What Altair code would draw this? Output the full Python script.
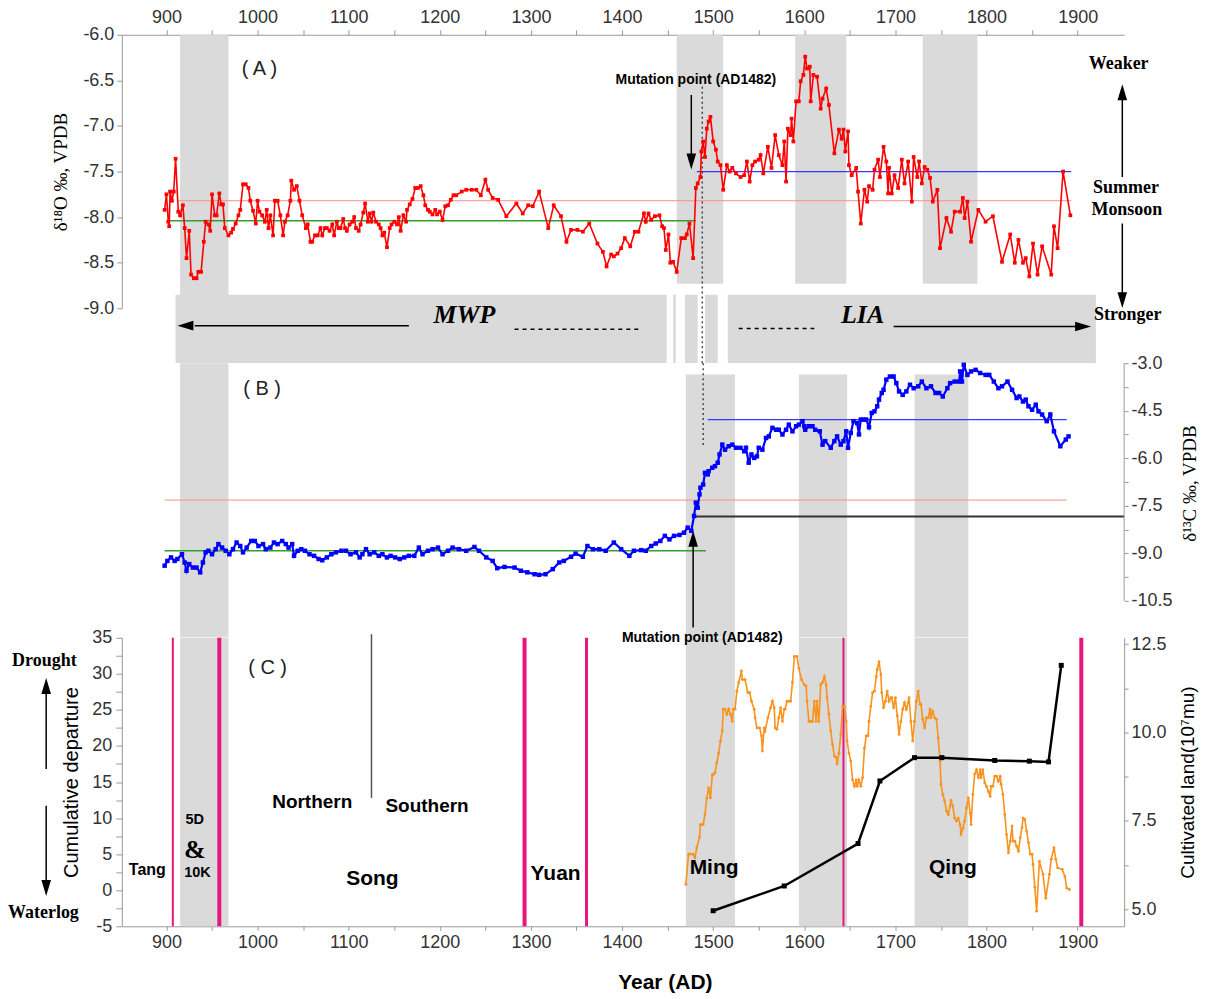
import altair as alt
import pandas as pd

SANS = "Liberation Sans"
SERIF = "Liberation Serif"
GREY = "#dadada"
RED = "#ff0000"
BLUE = "#0000ff"
ORANGE = "#f7931e"
PINK = "#e8157f"

YEAR_DOMAIN = [851, 1951]
W = 1004
H_A, H_B, H_C = 274, 256, 289
GAP = 37

# ---------------- Panel A : delta18O record (year, value) ----------------
a_pairs = [(898,-7.92),(900,-7.75),(902,-8.05),(903,-8.10),(904,-7.72),(906,-7.82),(908,-7.72),(910,-7.36),(913,-7.94),(915,-7.98),
(918,-7.87),(920,-8.12),(922,-8.45),(925,-8.15),(927,-8.63),(930,-8.67),(933,-8.67),(935,-8.60),(938,-8.60),(941,-8.27),
(943,-8.05),(946,-8.08),(948,-8.15),(950,-7.75),(953,-7.98),(955,-7.98),(958,-7.74),(960,-7.86),(962,-7.86),(964,-8.12),
(968,-8.20),(971,-8.17),(973,-8.13),(976,-8.07),(979,-7.98),(981,-7.92),(984,-7.64),(987,-7.64),(990,-7.68),(992,-7.82),
(995,-7.93),(998,-8.07),(1000,-7.82),(1002,-7.94),(1005,-7.98),(1008,-8.05),(1010,-7.92),(1012,-8.12),(1014,-7.98),(1017,-8.20),
(1019,-7.82),(1022,-7.82),(1025,-7.98),(1028,-8.20),(1030,-8.05),(1033,-7.98),(1036,-7.82),(1037,-7.60),(1040,-7.70),(1043,-7.66),
(1046,-7.82),(1049,-7.98),(1053,-8.12),(1055,-8.08),(1058,-8.27),(1060,-8.27),(1063,-8.20),(1066,-8.20),(1069,-8.12),(1071,-8.20),
(1074,-8.12),(1076,-8.12),(1079,-8.15),(1082,-8.08),(1084,-8.20),(1087,-8.05),(1089,-8.12),(1091,-8.12),(1094,-8.02),(1096,-8.12),
(1098,-8.15),(1101,-8.08),(1104,-8.05),(1106,-8.00),(1108,-8.12),(1111,-8.15),(1113,-8.08),(1116,-7.95),(1118,-7.85),(1121,-8.05),
(1123,-7.96),(1125,-8.05),(1127,-7.95),(1130,-8.05),(1133,-8.08),(1135,-8.12),(1137,-8.20),(1139,-8.17),(1142,-8.33),(1145,-8.12),
(1147,-8.08),(1150,-8.05),(1153,-8.08),(1155,-8.00),(1157,-8.15),(1160,-7.98),(1163,-8.05),(1164,-7.92),(1167,-7.86),(1170,-7.80),
(1173,-7.68),(1176,-7.68),(1179,-7.66),(1182,-7.76),(1184,-7.87),(1187,-7.92),(1189,-7.94),(1192,-7.97),(1195,-7.92),(1197,-7.97),
(1200,-7.94),(1203,-8.03),(1206,-7.88),(1209,-7.87),(1212,-7.81),(1215,-7.76),(1218,-7.76),(1224,-7.72),(1229,-7.70),(1235,-7.70),
(1240,-7.70),(1245,-7.76),(1250,-7.59),(1253,-7.70),(1258,-7.79),(1264,-7.81),(1273,-7.99),(1284,-7.85),(1291,-7.96),(1297,-7.87),
(1302,-7.88),(1309,-7.72),(1319,-8.12),(1325,-7.87),(1333,-7.99),(1339,-8.27),(1344,-8.14),(1351,-8.14),(1357,-8.16),(1364,-8.07),
(1373,-8.29),(1379,-8.38),(1383,-8.54),(1388,-8.41),(1391,-8.43),(1395,-8.40),(1399,-8.34),(1403,-8.23),(1409,-8.32),(1414,-8.16),
(1418,-8.16),(1424,-7.96),(1426,-8.05),(1429,-7.96),(1432,-8.03),(1436,-7.99),(1441,-7.98),(1444,-8.10),(1446,-8.12),(1448,-8.36),
(1451,-8.19),(1453,-8.50),(1456,-8.49),(1460,-8.60),(1465,-8.23),(1469,-8.23),(1471,-8.19),(1474,-8.07),(1478,-8.45),(1481,-7.68),
(1483,-7.63),(1486,-7.56),(1487,-7.28),(1489,-7.17),(1491,-7.34),(1493,-7.03),(1495,-6.95),(1497,-6.90),(1500,-7.17),(1503,-7.26),
(1505,-7.39),(1508,-7.43),(1511,-7.70),(1515,-7.43),(1518,-7.50),(1521,-7.46),(1525,-7.52),(1530,-7.56),(1534,-7.54),(1537,-7.39),
(1540,-7.61),(1543,-7.43),(1546,-7.39),(1550,-7.37),(1552,-7.32),(1555,-7.52),(1560,-7.23),(1564,-7.46),(1568,-7.10),(1572,-7.32),
(1576,-7.43),(1578,-7.17),(1580,-7.61),(1582,-7.03),(1585,-7.10),(1586,-6.92),(1588,-7.17),(1591,-6.73),(1594,-6.73),(1596,-6.51),
(1599,-6.44),(1601,-6.24),(1603,-6.37),(1606,-6.35),(1607,-6.73),(1610,-6.44),(1614,-6.46),(1618,-6.81),(1620,-6.70),(1624,-6.59),
(1627,-6.77),(1633,-7.30),(1638,-7.04),(1641,-7.14),(1643,-7.04),(1645,-7.28),(1648,-7.06),(1649,-7.43),(1652,-7.54),(1657,-7.46),
(1659,-7.72),(1662,-8.07),(1666,-7.70),(1669,-7.83),(1671,-7.66),(1675,-7.70),(1677,-7.48),(1681,-7.37),(1683,-7.56),(1687,-7.23),
(1690,-7.39),(1692,-7.74),(1693,-7.46),(1696,-7.74),(1699,-7.54),(1703,-7.68),(1707,-7.37),(1710,-7.63),(1714,-7.39),(1718,-7.83),
(1720,-7.34),(1724,-7.56),(1726,-7.39),(1729,-7.63),(1732,-7.45),(1735,-7.48),(1738,-7.57),(1741,-7.83),(1746,-7.70),(1749,-8.34),
(1756,-8.01),(1761,-8.16),(1765,-7.94),(1771,-7.94),(1774,-7.79),(1776,-8.01),(1779,-7.83),(1783,-8.27),(1791,-7.92),(1799,-8.05),
(1807,-7.99),(1817,-8.49),(1826,-8.19),(1831,-8.50),(1835,-8.25),(1840,-8.50),(1843,-8.45),(1847,-8.65),(1851,-8.29),(1856,-8.63),
(1861,-8.32),(1871,-8.63),(1874,-8.10),(1878,-8.34),(1884,-7.50),(1892,-7.98)]
a_year = [p[0] for p in a_pairs]
a_d18o = [p[1] for p in a_pairs]

# ---------------- Panel B : delta13C record ----------------
b_pairs = [(898,-9.39),(901,-9.24),(905,-9.13),(909,-9.24),(912,-9.18),(917,-9.03),(920,-9.29),(922,-9.55),(925,-9.34),(929,-9.45),
(933,-9.45),(937,-9.60),(940,-9.29),(943,-8.97),(946,-8.92),(950,-9.03),(954,-8.87),(957,-8.71),(961,-8.82),(965,-8.92),
(969,-9.03),(973,-8.87),(977,-8.66),(981,-8.77),(984,-8.97),(988,-8.82),(993,-8.61),(997,-8.61),(1001,-8.77),(1006,-8.71),
(1009,-8.87),(1014,-8.82),(1018,-8.66),(1022,-8.71),(1027,-8.61),(1031,-8.71),(1034,-8.82),(1038,-8.71),(1040,-9.08),(1044,-8.92),
(1048,-8.87),(1052,-8.92),(1057,-9.03),(1062,-9.08),(1067,-9.18),(1071,-9.22),(1076,-9.13),(1081,-9.03),(1086,-8.97),(1092,-8.92),
(1097,-8.92),(1102,-9.03),(1108,-8.97),(1112,-9.13),(1115,-9.03),(1119,-8.87),(1123,-9.03),(1128,-8.97),(1133,-9.08),(1137,-9.03),
(1142,-9.13),(1146,-9.08),(1151,-9.13),(1156,-9.18),(1161,-9.13),(1166,-9.08),(1172,-9.08),(1177,-8.82),(1181,-9.03),(1187,-8.92),
(1192,-8.87),(1198,-8.82),(1203,-9.03),(1209,-8.92),(1214,-8.82),(1221,-8.87),(1229,-8.92),(1238,-8.80),(1243,-8.92),(1251,-9.13),
(1258,-9.24),(1263,-9.47),(1271,-9.43),(1282,-9.45),(1289,-9.55),(1296,-9.60),(1304,-9.66),(1309,-9.68),(1316,-9.66),(1324,-9.50),
(1331,-9.29),(1336,-9.24),(1344,-9.11),(1349,-9.01),(1357,-9.11),(1362,-8.77),(1368,-8.87),(1375,-8.87),(1382,-8.92),(1391,-8.66),
(1399,-8.87),(1408,-9.08),(1413,-8.92),(1421,-8.90),(1426,-8.92),(1432,-8.77),(1437,-8.69),(1442,-8.61),(1447,-8.45),(1452,-8.56),
(1457,-8.45),(1463,-8.42),(1468,-8.35),(1472,-8.19),(1476,-8.29),(1479,-7.82),(1481,-7.40),(1483,-7.56),(1485,-7.14),(1486,-6.93),
(1489,-6.83),(1491,-6.46),(1494,-6.51),(1495,-6.41),(1499,-6.30),(1502,-6.25),(1505,-6.14),(1507,-5.88),(1510,-5.57),(1513,-5.73),
(1517,-5.62),(1521,-5.57),(1525,-5.67),(1530,-5.67),(1534,-5.78),(1536,-5.67),(1539,-6.14),(1542,-5.88),(1545,-5.99),(1548,-5.94),
(1550,-5.67),(1554,-5.73),(1558,-5.36),(1561,-5.31),(1565,-5.04),(1569,-5.10),(1572,-5.10),(1576,-5.25),(1580,-5.10),(1583,-4.94),
(1587,-5.15),(1591,-4.99),(1594,-4.94),(1598,-4.83),(1600,-4.99),(1601,-5.10),(1605,-4.99),(1609,-4.99),(1612,-5.10),(1617,-5.15),
(1620,-5.57),(1623,-5.46),(1629,-5.67),(1633,-5.46),(1636,-5.31),(1640,-5.57),(1643,-5.46),(1646,-5.15),(1648,-5.67),(1651,-5.20),
(1654,-4.83),(1658,-4.89),(1660,-5.25),(1662,-4.78),(1665,-4.78),(1668,-4.78),(1671,-5.02),(1674,-4.57),(1677,-4.52),(1680,-4.36),
(1682,-4.15),(1685,-3.94),(1687,-3.84),(1690,-3.52),(1694,-3.42),(1698,-3.42),(1701,-3.63),(1704,-3.89),(1708,-4.00),(1712,-3.89),
(1716,-3.68),(1720,-3.79),(1725,-3.73),(1729,-3.58),(1734,-3.79),(1739,-3.73),(1744,-3.94),(1748,-3.94),(1752,-4.05),(1757,-3.79),
(1760,-3.63),(1765,-3.58),(1770,-3.58),(1771,-3.26),(1773,-3.58),(1775,-3.05),(1779,-3.37),(1783,-3.26),(1788,-3.21),(1793,-3.31),
(1799,-3.37),(1803,-3.37),(1808,-3.58),(1813,-3.79),(1817,-3.73),(1823,-3.58),(1828,-3.84),(1833,-4.10),(1836,-4.05),(1840,-4.21),
(1843,-4.15),(1846,-4.36),(1850,-4.47),(1854,-4.31),(1857,-4.52),(1861,-4.62),(1866,-4.83),(1870,-4.62),(1874,-5.15),(1881,-5.62),
(1887,-5.41),(1890,-5.31)]
b_year = [p[0] for p in b_pairs]
b_d13c = [p[1] for p in b_pairs]

# ---------------- Panel C : drought cumulative departure ----------------
c_pairs = [(1470,0.8),(1473,5.0),(1475,5.0),(1478,5.0),(1480,4.5),(1482,5.9),(1485,7.3),(1486,9.1),(1489,9.1),(1491,10.5),
(1493,12.8),(1495,14.2),(1497,12.8),(1499,16.0),(1500,16.0),(1502,16.3),(1504,17.7),(1506,19.0),(1508,20.7),(1510,22.1),
(1511,25.1),(1513,25.1),(1515,24.4),(1517,25.1),(1519,24.4),(1521,23.4),(1522,25.1),(1524,25.1),(1526,27.6),(1528,28.8),
(1531,30.4),(1532,29.2),(1535,29.2),(1538,27.4),(1540,27.4),(1542,26.2),(1545,25.1),(1546,23.9),(1548,22.5),(1551,22.5),
(1553,21.4),(1554,19.3),(1556,22.5),(1557,22.1),(1560,23.9),(1563,25.3),(1565,26.2),(1567,25.3),(1568,22.5),(1570,22.3),
(1572,23.9),(1574,25.3),(1576,23.4),(1578,25.1),(1579,25.1),(1581,26.2),(1583,26.2),(1585,26.2),(1587,28.8),(1589,32.4),
(1592,32.4),(1594,30.8),(1597,29.2),(1600,28.5),(1602,28.3),(1603,26.2),(1605,23.4),(1607,23.4),(1609,23.4),(1611,26.2),
(1613,23.4),(1614,26.2),(1616,23.4),(1618,28.5),(1620,28.8),(1622,29.6),(1624,28.5),(1625,26.7),(1627,24.4),(1629,22.1),
(1631,20.2),(1633,18.6),(1635,18.4),(1636,17.5),(1638,19.0),(1640,21.6),(1642,25.5),(1644,25.5),(1646,23.4),(1647,20.7),
(1649,19.0),(1651,17.9),(1653,15.3),(1655,14.4),(1657,15.3),(1658,14.4),(1660,15.3),(1662,14.4),(1664,15.6),(1666,19.7),
(1668,21.4),(1670,21.4),(1671,23.4),(1673,25.5),(1675,27.4),(1677,27.6),(1679,29.6),(1680,30.6),(1682,31.7),(1684,29.9),
(1685,27.4),(1687,25.3),(1689,26.2),(1691,27.6),(1693,26.2),(1695,26.7),(1696,26.7),(1698,25.3),(1700,26.7),(1702,24.2),
(1704,21.6),(1706,23.4),(1708,25.1),(1710,26.0),(1712,25.1),(1714,26.0),(1715,26.7),(1717,23.4),(1719,20.7),(1721,23.4),
(1723,26.2),(1725,27.6),(1727,25.8),(1728,25.8),(1730,23.7),(1732,22.5),(1734,23.9),(1736,23.9),(1738,25.1),(1739,23.9),
(1741,24.8),(1743,23.9),(1745,23.7),(1747,21.1),(1749,17.9),(1750,14.7),(1752,13.3),(1754,12.4),(1756,11.0),(1758,10.5),
(1760,11.7),(1761,12.4),(1763,11.7),(1765,10.0),(1767,9.6),(1769,10.0),(1771,9.1),(1772,7.7),(1774,8.6),(1776,9.6),
(1778,11.4),(1780,12.8),(1782,10.7),(1783,9.1),(1785,13.3),(1787,16.1),(1789,16.7),(1791,15.6),(1793,16.7),(1794,15.6),
(1796,16.7),(1798,14.9),(1800,14.4),(1802,13.7),(1804,13.0),(1805,14.4),(1807,14.4),(1809,15.8),(1811,15.8),(1813,15.1),
(1815,15.8),(1816,14.7),(1818,13.3),(1820,10.5),(1822,7.7),(1824,5.2),(1826,6.8),(1828,8.9),(1829,6.8),(1831,6.8),
(1833,6.1),(1835,5.4),(1837,7.3),(1839,8.7),(1840,10.0),(1842,9.8),(1844,8.2),(1846,6.6),(1848,5.0),(1850,5.0),
(1851,3.6),(1853,0.4),(1855,-2.9),(1858,4.0),(1862,2.2),(1865,-1.1),(1869,2.2),(1871,4.3),(1874,5.9),(1876,4.3),
(1878,3.1),(1883,2.9),(1886,1.9),(1888,0.3),(1891,0.1)]
c_year = [p[0] for p in c_pairs]
c_drought = [p[1] for p in c_pairs]

# cultivated land (10^7 mu)
land_year = [1500, 1578, 1659, 1683, 1721, 1751, 1809, 1847, 1868, 1882]
land_val = [4.96, 5.66, 6.86, 8.63, 9.29, 9.29, 9.21, 9.19, 9.17, 11.9]

# ---------------- shaded periods ----------------
a_band_start = [915, 1460, 1590, 1730]
a_band_end = [968, 1511, 1646, 1790]
a_band_top = [-6.0, -6.0, -6.0, -6.0]
a_band_bottom = [-8.86, -8.73, -8.73, -8.73]

era_start = [910, 1456, 1469, 1491, 1516]
era_end = [1449, 1459, 1483, 1505, 1920]
era_top = [-8.85] * 5
era_bottom = [-9.60] * 5

bc_band_start = [915, 1470, 1594, 1721]
bc_band_end = [968, 1524, 1647, 1780]
b_band_top = [-3.0, -3.36, -3.36, -3.36]
b_band_bottom = [-11.65] * 4
c_band_top = [35] * 4
c_band_bottom = [-5] * 4

# reference (mean) lines
a_ref_green = ([902], [1481], [-8.04])
a_ref_red = ([913], [1893], [-7.82])
a_ref_blue = ([1482], [1893], [-7.50])
b_ref_red = ([898], [1888], [-7.32])
b_ref_green = ([898], [1492], [-8.92])
b_ref_blue = ([1494], [1888], [-4.78])
b_ref_black = ([1481], [1951], [-7.84])

# dynasty boundaries
pink_thick = [958, 1293, 1904]
pink_medium = [1361]
pink_thin = [907, 1643]
song_split = [1125]

# ---------------- scales / axes ----------------
xs = alt.Scale(domain=YEAR_DOMAIN, nice=False, zero=False)
ya_scale = alt.Scale(domain=[-9.0, -6.0], nice=False, zero=False)
# B view is taller than its axis (-3.0 .. -10.5) so the gap above it matches the figure
yb_scale = alt.Scale(domain=[-10.5, -2.434], nice=False, zero=False)
yc_scale = alt.Scale(domain=[-5, 35], nice=False, zero=False)
yr_scale = alt.Scale(domain=[4.52, 12.68], nice=False, zero=False)

MINUS = "\u2212"
NUM1 = f"replace(format(datum.value, '.1f'), '{MINUS}', '-')"
NUM0 = f"replace(format(datum.value, 'd'), '{MINUS}', '-')"
YEAR_LBL = "datum.value % 100 == 0 ? format(datum.value, 'd') : ''"
year_ticks = list(range(900, 1901, 50))

xa_axis = alt.Axis(orient="top", title="", values=year_ticks, labelExpr=YEAR_LBL, tickSize=5, labelPadding=3)
xc_axis = alt.Axis(orient="bottom", title="Year (AD)", values=year_ticks, labelExpr=YEAR_LBL, tickSize=4,
                   labelPadding=3, titleFontSize=21, titleFontWeight="bold", titleX=544, titleY=56,
                   titleAlign="center", titleBaseline="middle")
ya_axis = alt.Axis(title="δ¹⁸O ‰, VPDB", values=[-6.0, -6.5, -7.0, -7.5, -8.0, -8.5, -9.0], labelExpr=NUM1,
                   tickSize=5, labelPadding=3, titleFont=SERIF, titleFontSize=19, titlePadding=12)
yb_axis = alt.Axis(orient="right", title="δ¹³C ‰, VPDB", values=[-3.0 - 0.75 * i for i in range(11)],
                   labelExpr="round(datum.value*4) % 6 == 0 ? " + NUM1 + " : ''", tickSize=4, labelPadding=3,
                   domain=False, titleFont=SERIF, titleFontSize=19, titleAngle=270, titleBaseline="top",
                   titlePadding=8, titleY=138)
yc_axis = alt.Axis(title="Cumulative departure", values=[-5 + 2.5 * i for i in range(17)],
                   labelExpr="datum.value % 5 == 0 ? " + NUM0 + " : ''", tickSize=6, labelPadding=4,
                   titleFontSize=20, titlePadding=10)
yr_axis = alt.Axis(orient="right", title="Cultivated land(10⁷mu)", values=[5.0, 6.25, 7.5, 8.75, 10.0, 11.25, 12.5],
                   labelExpr="round(datum.value*4) % 10 == 0 ? format(datum.value, '.1f') : ''", tickSize=4,
                   labelPadding=3, titleFontSize=19, titleAngle=270, titleBaseline="top", titlePadding=12)


def XA(f):
    return alt.X(f, type="quantitative", scale=xs, axis=xa_axis)


def XB(f):
    return alt.X(f, type="quantitative", scale=xs, axis=None)


def XC(f):
    return alt.X(f, type="quantitative", scale=xs, axis=xc_axis)


def YA(f):
    return alt.Y(f, type="quantitative", scale=ya_scale, axis=ya_axis)


def YB(f):
    return alt.Y(f, type="quantitative", scale=yb_scale, axis=yb_axis)


def YC(f):
    return alt.Y(f, type="quantitative", scale=yc_scale, axis=yc_axis)


def YR(f):
    return alt.Y(f, type="quantitative", scale=yr_scale, axis=yr_axis)


def bands(x0, x1, y0, y1, X, Y):
    d = pd.DataFrame({"x0": x0, "x1": x1, "y0": y0, "y1": y1})
    return alt.Chart(d).mark_rect(color=GREY).encode(x=X("x0"), x2="x1", y=Y("y0"), y2="y1")


def hline(ref, X, Y, color, width=1.0, dash=None):
    d = pd.DataFrame({"x0": ref[0], "x1": ref[1], "v": ref[2]})
    kw = dict(color=color, strokeWidth=width)
    if dash:
        kw["strokeDash"] = dash
    return alt.Chart(d).mark_rule(**kw).encode(x=X("x0"), x2="x1", y=Y("v"))


def vline(years, v0, v1, X, Y, color="black", width=1.5, dash=None):
    d = pd.DataFrame({"year": years, "v0": [v0] * len(years), "v1": [v1] * len(years)})
    kw = dict(color=color, strokeWidth=width)
    if dash:
        kw["strokeDash"] = dash
    return alt.Chart(d).mark_rule(**kw).encode(x=X("year"), y=Y("v0"), y2="v1")


def head(year, v, shape, X, Y, size=256):
    d = pd.DataFrame({"year": [year], "v": [v]})
    return alt.Chart(d).mark_point(shape=shape, filled=True, size=size, color="black", opacity=1).encode(
        x=X("year"), y=Y("v"))


def texts(words, years, vals, X, Y, size, font=SANS, weight="bold", style="normal", color="black"):
    d = pd.DataFrame({"t": words, "year": years, "v": vals})
    return alt.Chart(d).mark_text(font=font, fontSize=size, fontWeight=weight, fontStyle=style, color=color,
                                  align="center", baseline="middle").encode(x=X("year"), y=Y("v"), text="t:N")


UP = "M-0.6,1L0.6,1L0,-1Z"
DOWN = "M-0.6,-1L0.6,-1L0,1Z"
LEFT = "M1,-0.6L1,0.6L-1,0Z"
RIGHT = "M-1,-0.6L-1,0.6L1,0Z"

# ---------------- Panel A ----------------
df_a = pd.DataFrame({"year": a_year, "v": a_d18o})
a_layers = [
    bands(a_band_start, a_band_end, a_band_top, a_band_bottom, XA, YA),
    bands(era_start, era_end, era_top, era_bottom, XA, YA),
    hline(a_ref_red, XA, YA, "#ff8c8c", 1.0),
    hline(a_ref_green, XA, YA, "#33a02c", 1.6),
    hline(a_ref_blue, XA, YA, "#3a3aff", 1.2),
    vline([1488], -6.57, -9.62, XA, YA, color="#222", width=1.2, dash=[2, 3]),
    vline([1476], -6.66, -7.32, XA, YA),
    head(1476, -7.39, DOWN, XA, YA),
    vline([1949], -7.56, -6.70, XA, YA),
    head(1949, -6.63, UP, XA, YA),
    vline([1949], -8.07, -8.84, XA, YA),
    head(1949, -8.91, DOWN, XA, YA),
    hline(([931], [1166], [-9.19]), XA, YA, "black", 1.5),
    head(920.8, -9.19, LEFT, XA, YA),
    hline(([1698], [1900], [-9.20]), XA, YA, "black", 1.5),
    head(1906, -9.20, RIGHT, XA, YA),
    hline(([1282], [1419], [-9.23]), XA, YA, "black", 1.5, dash=[4, 4]),
    hline(([1528], [1611], [-9.22]), XA, YA, "black", 1.5, dash=[4, 4]),
    alt.Chart(df_a).mark_line(color=RED, strokeWidth=1.6).encode(x=XA("year"), y=YA("v")),
    alt.Chart(df_a).mark_point(shape="square", filled=True, size=14, color=RED, opacity=1).encode(
        x=XA("year"), y=YA("v")),
    texts(["( A )"], [1002], [-6.37], XA, YA, 20, weight="normal", color="#222"),
    texts(["Mutation point  (AD1482)"], [1481], [-6.50], XA, YA, 14),
    texts(["Weaker", "Summer", "Monsoon", "Stronger"], [1945, 1953, 1954, 1955], [-6.32, -7.68, -7.92, -9.07],
          XA, YA, 18, font=SERIF),
    texts(["MWP", "LIA"], [1227, 1664], [-9.07, -9.07], XA, YA, 26, font=SERIF, style="italic"),
]
panel_a = alt.layer(*a_layers).properties(width=W, height=H_A)

# ---------------- Panel B ----------------
df_b = pd.DataFrame({"year": b_year, "v": b_d13c})
b_layers = [
    bands(bc_band_start, bc_band_end, b_band_top, b_band_bottom, XB, YB),
    hline(b_ref_red, XB, YB, "#ff8c8c", 1.0),
    hline(b_ref_green, XB, YB, "#33a02c", 1.6),
    hline(b_ref_blue, XB, YB, "#3a3aff", 1.2),
    hline(b_ref_black, XB, YB, "#333333", 2.0),
    vline([1951], -3.0, -10.5, XB, YB, color="#999", width=1),
    vline([1489], -3.0, -5.62, XB, YB, color="#222", width=1.2, dash=[2, 3]),
    vline([1478], -11.34, -8.75, XB, YB),
    head(1478, -8.54, UP, XB, YB),
    alt.Chart(df_b).mark_line(color=BLUE, strokeWidth=2.2).encode(x=XB("year"), y=YB("v")),
    alt.Chart(df_b).mark_point(shape="square", filled=True, size=20, color=BLUE, opacity=1).encode(
        x=XB("year"), y=YB("v")),
    texts(["( B )"], [1005], [-3.80], XB, YB, 20, weight="normal", color="#222"),
]
panel_b = alt.layer(*b_layers).properties(width=W, height=H_B)

# ---------------- Panel C ----------------
df_c = pd.DataFrame({"year": c_year, "v": c_drought})
df_land = pd.DataFrame({"year": land_year, "v": land_val})
c_left = alt.layer(
    bands(bc_band_start, bc_band_end, c_band_top, c_band_bottom, XC, YC),
    vline(pink_thick, 35, -5, XC, YC, color=PINK, width=4),
    vline(pink_medium, 35, -5, XC, YC, color=PINK, width=3),
    vline(pink_thin, 35, -5, XC, YC, color=PINK, width=2),
    vline(song_split, 35.5, 12.8, XC, YC, color="#555", width=1.5),
    vline([768], 16.8, 28.0, XC, YC),
    head(768, 28.3, UP, XC, YC),
    vline([768], 11.7, 1.0, XC, YC),
    head(768, 0.3, DOWN, XC, YC),
    alt.Chart(df_c).mark_line(color=ORANGE, strokeWidth=1.6).encode(x=XC("year"), y=YC("v")),
    alt.Chart(df_c).mark_point(shape="circle", filled=True, size=8, color=ORANGE, opacity=1).encode(
        x=XC("year"), y=YC("v")),
    texts(["( C )"], [1011], [30.8], XC, YC, 20, weight="normal", color="#222"),
    texts(["Mutation point (AD1482)"], [1488], [34.9], XC, YC, 14),
    texts(["Drought", "Waterlog"], [766, 765], [31.8, -3.1], XC, YC, 18, font=SERIF),
    texts(["Song", "Yuan", "Ming", "Qing"], [1126, 1327, 1501, 1763], [1.6, 2.3, 3.1, 3.1], XC, YC, 21),
    texts(["Northern", "Southern"], [1060, 1186], [12.2, 11.7], XC, YC, 19),
    texts(["Tang"], [879], [2.8], XC, YC, 16),
    texts(["5D", "10K"], [931, 934], [9.7, 2.4], XC, YC, 14.5),
    texts(["&"], [931], [5.6], XC, YC, 26, font=SERIF),
)
c_right = alt.layer(
    alt.Chart(df_land).mark_line(color="black", strokeWidth=2.5).encode(x=XC("year"), y=YR("v")),
    alt.Chart(df_land).mark_point(shape="square", filled=True, size=25, color="black", opacity=1).encode(
        x=XC("year"), y=YR("v")),
)
panel_c = alt.layer(c_left, c_right).resolve_scale(y="independent").properties(width=W, height=H_C)

chart = (
    alt.vconcat(panel_a, panel_b, panel_c, spacing=GAP, bounds="flush")
    .resolve_scale(x="independent", y="independent")
    .properties(padding=0, background="white")
    .configure_view(strokeWidth=0)
    .configure_axis(labelFont=SANS, labelFontSize=18, labelColor="#333", titleFont=SANS, titleColor="black",
                    titleFontWeight="normal", domainColor="#999", tickColor="#999", grid=False)
)

chart.save("out.html", embed_options={"renderer": "svg", "actions": False})
